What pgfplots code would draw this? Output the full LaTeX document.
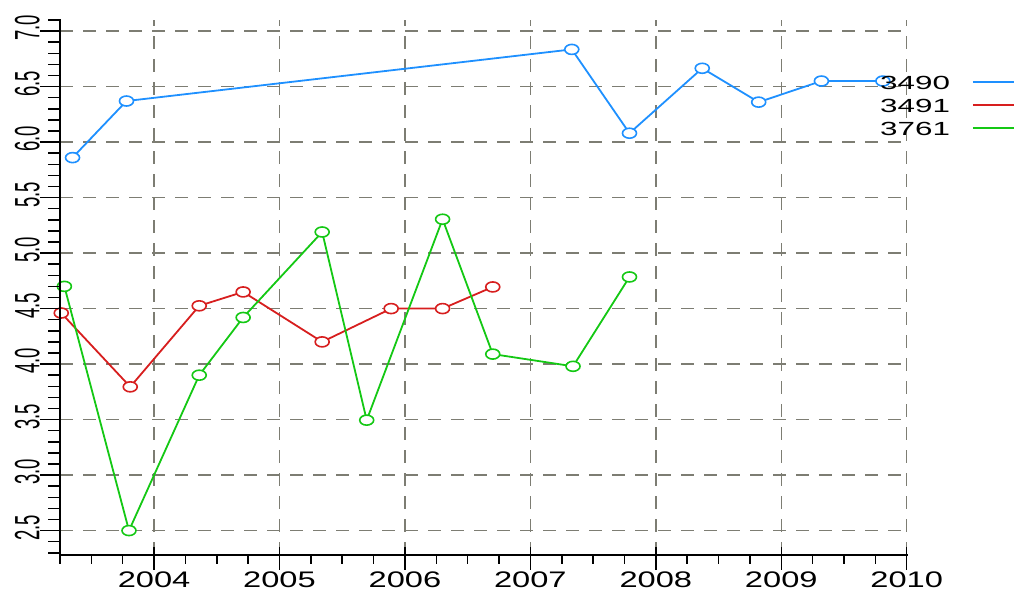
\documentclass[border=0pt]{standalone}
\usepackage{fontspec}
\setmainfont{Liberation Sans}
\usepackage{graphicx}
\usepackage{pgfplots}
\pgfplotsset{compat=1.18}
\definecolor{cblue}{RGB}{30,144,255}
\definecolor{cred}{RGB}{215,30,30}
\definecolor{cgreen}{RGB}{20,200,20}
\definecolor{gridc}{RGB}{125,125,115}
\begin{document}
\begin{tikzpicture}
\path (0pt,0pt) rectangle (1019pt,591pt);
\begin{axis}[
  at={(60pt,36pt)}, anchor=south west,
  scale only axis, width=846.7pt, height=535pt,
  xmin=2003.25, xmax=2010, ymin=2.28, ymax=7.1,
  axis line style={draw=none},
  xtick pos=left, ytick pos=left,
  xtick={2004,2005,...,2010},
  ytick={2.5,3.0,...,7.0},
  tick align=outside,
  major tick length=16pt,
  tick style={draw=none},
  grid=major,
  major grid style={gridc, line width=1.5pt, dash pattern=on 13pt off 10pt},
  /pgf/number format/assume math mode=true,
  xticklabel={\scalebox{1.45}[1]{\fontsize{22.5}{22.5}\selectfont\pgfmathprintnumber[1000 sep={}]{\tick}}},
  xticklabel style={inner sep=0.5pt},
  yticklabel={\scalebox{1}[1.9]{\fontsize{18.5}{18.5}\selectfont\pgfmathprintnumber[fixed,fixed zerofill,precision=1]{\tick}}},
  yticklabel style={rotate=90, anchor=south, inner sep=4pt, xshift=3pt},
  legend plot pos=right,
  legend style={at={(0.9685,0.897)}, anchor=north west, draw=none, fill=none,
    inner sep=0pt, row sep=9pt, column sep=22pt,
    nodes={inner sep=0pt, text height=14pt, text depth=0pt, anchor=west}},
  legend cell align=left,
  legend image code/.code={\draw[#1] (0pt,0pt) -- (41pt,0pt);},
  every axis plot/.append style={line width=1.8pt},
  mark options={solid, fill=white, line width=1.6pt, xscale=1.4},
  mark size=5pt,
]
\addplot[cblue, mark=*] coordinates {
 (2003.35,5.86) (2003.78,6.37) (2007.33,6.835) (2007.79,6.08)
 (2008.37,6.665) (2008.82,6.36) (2009.32,6.55) (2009.81,6.55)};
\addlegendentry{\scalebox{1.65}[1]{\fontsize{19}{19}\selectfont 3490}}
\addplot[cred, mark=*] coordinates {
 (2003.26,4.46) (2003.81,3.795) (2004.36,4.525) (2004.71,4.65)
 (2005.34,4.20) (2005.89,4.50) (2006.30,4.50) (2006.70,4.695)};
\addlegendentry{\scalebox{1.65}[1]{\fontsize{19}{19}\selectfont 3491}}
\addplot[cgreen, mark=*] coordinates {
 (2003.285,4.70) (2003.80,2.50) (2004.36,3.90) (2004.71,4.42)
 (2005.34,5.19) (2005.695,3.495) (2006.30,5.305) (2006.70,4.09)
 (2007.34,3.98) (2007.79,4.785)};
\addlegendentry{\scalebox{1.65}[1]{\fontsize{19}{19}\selectfont 3761}}
\end{axis}
% axis lines and tick marks (frame decoration)
\begin{scope}[line width=1.6pt, black, line cap=rect]
\draw (60pt,571pt) -- (60pt,36pt) -- (906.7pt,36pt);
\end{scope}
\begin{scope}[line width=1.5pt, black]
\foreach \t in {2004,...,2010}{
  \pgfmathsetmacro{\xx}{60+(\t-2003.25)*846.7/6.75}
  \draw (\xx pt,44pt) -- (\xx pt,21pt);
}
\foreach \k in {0,...,27}{
  \pgfmathsetmacro{\xx}{60+\k*0.25*846.7/6.75}
  \draw (\xx pt,36pt) -- (\xx pt,27pt);
}
\foreach \k in {0,...,9}{
  \pgfmathsetmacro{\yy}{36+(2.5+\k*0.5-2.28)*535/4.82}
  \draw (60pt,\yy pt) -- (40pt,\yy pt);
}
\foreach \k in {0,...,48}{
  \pgfmathsetmacro{\yy}{36+(2.3+\k*0.1-2.28)*535/4.82}
  \draw (60pt,\yy pt) -- (48pt,\yy pt);
}
\end{scope}
\end{tikzpicture}
\end{document}
